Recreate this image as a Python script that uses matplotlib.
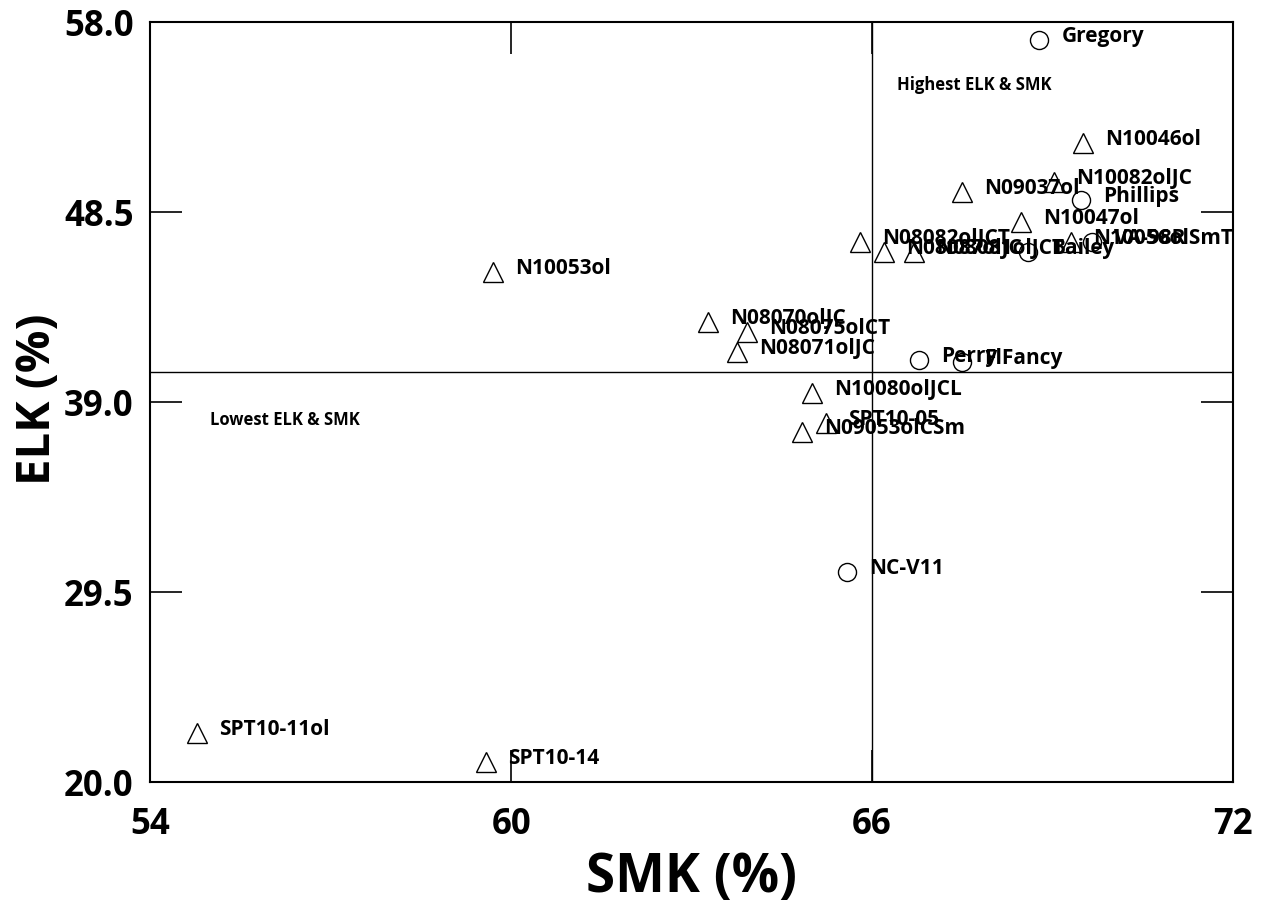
import matplotlib
matplotlib.use("Agg")
import matplotlib.pyplot as plt

plt.rcParams['font.family'] = ['Open Sans', 'DejaVu Sans']

# Data (SMK %, ELK %)
names = ["Gregory", "N10046ol", "N10082olJC", "Phillips", "N09037ol", "N10047ol",
         "N08082olJCT", "N08087olJC", "N08081olJCT", "Bailey", "N10056olSmT", "VA-98R",
         "N10053ol", "N08070olJC", "N08075olCT", "N08071olJC", "Perry", "FlFancy",
         "N10080olJCL", "SPT10-05", "N09053olCSm", "NC-V11", "SPT10-11ol", "SPT10-14"]
smk = [68.78, 69.50, 69.02, 69.48, 67.50, 68.48,
       65.80, 66.20, 66.70, 68.60, 69.30, 69.65,
       59.70, 63.27, 63.92, 63.75, 66.78, 67.50,
       65.00, 65.23, 64.83, 65.58, 54.78, 59.58]
elk = [57.1, 51.95, 50.0, 49.1, 49.5, 48.0,
       47.0, 46.5, 46.5, 46.5, 47.0, 47.0,
       45.5, 43.0, 42.5, 41.5, 41.1, 41.0,
       39.45, 37.95, 37.5, 30.5, 22.45, 21.0]
kind = ["cultivar", "line", "line", "cultivar", "line", "line",
        "line", "line", "line", "cultivar", "line", "cultivar",
        "line", "line", "line", "line", "cultivar", "cultivar",
        "line", "line", "line", "cultivar", "line", "line"]

mean_smk = 66.0
mean_elk = 40.5
x_ticks = [54, 60, 66, 72]
y_ticks = [20.0, 29.5, 39.0, 48.5, 58.0]

fig = plt.figure(figsize=(12.63, 9.07), dpi=100)
ax = fig.add_axes([0.119, 0.1378, 0.8572, 0.8379])

for n, x, y, k in zip(names, smk, elk, kind):
    m = 'o' if k == "cultivar" else '^'
    ax.plot(x, y, marker=m, ms=14 if m == '^' else 13, mfc='none', mec='black', mew=1.0,
            linestyle='none', zorder=3)
    ax.annotate(n, (x, y), xytext=(16, 2.5), textcoords='offset points',
                fontsize=15, fontweight='bold', va='center', ha='left', zorder=4)

ax.axhline(mean_elk, color='black', lw=1.0, zorder=1)
ax.axvline(mean_smk, color='black', lw=1.0, zorder=1)

ax.text(66.42, 54.85, "Highest ELK & SMK", fontsize=12, fontweight='bold', va='center')
ax.text(55.0, 38.1, "Lowest ELK & SMK", fontsize=12, fontweight='bold', va='center')

ax.set_xlim(54, 72)
ax.set_ylim(20, 58)
ax.set_xticks(x_ticks)
ax.set_yticks(y_ticks)
ax.set_yticklabels([f"{v:.1f}" for v in y_ticks])
ax.tick_params(direction='in', length=23, width=1.2, top=True, right=True,
               labelsize=25, pad=12)
ax.tick_params(axis='x', pad=18)
for lab in ax.get_xticklabels() + ax.get_yticklabels():
    lab.set_fontweight('bold')
for s in ax.spines.values():
    s.set_linewidth(1.5)

ax.set_xlabel("SMK (%)", fontsize=38, fontweight='bold', labelpad=6)
fig.text(0.03, 0.56, "ELK (%)", rotation=90, fontsize=34, fontweight='bold',
         ha='center', va='center')

fig.savefig("out.png", dpi=100)
